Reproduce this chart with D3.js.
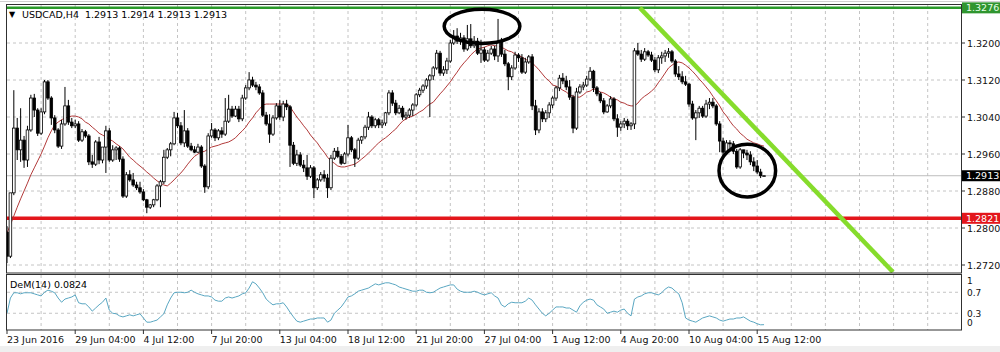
<!DOCTYPE html>
<html>
<head>
<meta charset="utf-8">
<script src="https://cdn.jsdelivr.net/npm/d3@7.9.0/dist/d3.min.js"></script>
<style>
html, body { margin: 0; padding: 0; background: #fff; }
svg { display: block; font-family: "DejaVu Sans", sans-serif; }
</style>
</head>
<body>
<svg id="chart" width="1000" height="352"></svg>
<script>
// USDCAD H4 candles, prices stored x10000
const opens = [12791,12739,12876,13016,12969,12990,12947,13012,13081,13055,
13005,13051,13116,13081,13038,13012,12977,13025,13064,13029,
13021,13025,12990,13008,12999,12943,12938,12986,12947,12975,
13010,12947,12969,12973,12949,12869,12915,12904,12893,12887,
12878,12861,12845,12850,12861,12891,12900,12953,12969,12982,
13038,13021,12984,13010,12977,12969,12964,12975,12934,12889,
12999,13012,12995,13010,13003,13031,13057,13042,13057,13036,
13081,13103,13120,13109,13105,13092,13044,13025,13003,13038,
13064,13040,13068,13062,12979,12940,12958,12936,12930,12912,
12930,12887,12904,12915,12908,12887,12951,12966,12955,12940,
12960,12995,12969,12951,12990,12997,13018,13040,13021,13034,
13023,13027,13049,13092,13070,13049,13059,13040,13044,13055,
13066,13088,13098,13107,13120,13129,13146,13178,13135,13142,
13161,13200,13215,13204,13211,13187,13209,13194,13204,13178,
13185,13163,13178,13187,13172,13202,13176,13155,13127,13146,
13174,13168,13137,13159,13170,13064,13012,13051,13036,13049,
13066,13081,13103,13124,13118,13105,13083,13016,13094,13105,
13109,13122,13139,13103,13090,13075,13051,13064,13079,13036,
13018,13025,13031,13021,13025,13183,13176,13165,13181,13174,
13163,13142,13168,13172,13178,13181,13161,13133,13127,13116,
13111,13068,13038,13049,13059,13042,13068,13072,13064,13025,
12988,12964,12984,12982,12966,12932,12969,12962,12958,12943,
12934,12921,12913];
const highs = [12804,12748,13098,13038,13059,12999,13021,13088,13090,13059,
13059,13120,13120,13085,13044,13016,13034,13105,13077,13038,
13034,13031,13014,13012,13003,12958,12990,12997,12973,13021,
13016,12979,12977,12977,12955,12921,12925,12919,12900,12900,
12884,12863,12852,12863,12895,12904,12969,12973,12986,13051,
13049,13029,13055,13016,12984,12977,12982,12979,12938,13005,
13027,13016,13014,13018,13081,13088,13064,13064,13064,13088,
13109,13137,13127,13116,13111,13098,13051,13046,13044,13070,
13077,13075,13077,13066,12986,12969,12964,12947,12958,12936,
12934,12908,12921,12925,12917,12958,12973,12975,12960,12964,
13023,12999,12973,12995,12999,13023,13051,13044,13038,13038,
13034,13051,13098,13098,13077,13066,13064,13051,13059,13070,
13092,13103,13111,13124,13133,13150,13185,13183,13150,13168,
13207,13228,13232,13222,13217,13239,13241,13215,13211,13207,
13191,13185,13194,13194,13252,13211,13185,13159,13152,13181,
13178,13176,13168,13174,13176,13077,13059,13059,13055,13072,
13085,13107,13131,13135,13129,13120,13088,13103,13111,13116,
13129,13148,13142,13107,13094,13081,13068,13085,13083,13046,
13031,13038,13036,13029,13189,13200,13185,13189,13185,13181,
13170,13174,13181,13185,13189,13185,13165,13150,13139,13129,
13114,13075,13055,13064,13064,13077,13081,13081,13068,13031,
12995,12990,12990,12988,12971,12973,12969,12969,12966,12953,
12947,12928,12914];
const lows = [12724,12735,12871,12947,12943,12930,12932,13008,13040,12999,
13001,13046,13077,13023,13005,12973,12971,13021,13023,13016,
13016,12986,12986,12995,12936,12930,12934,12938,12940,12919,
12943,12943,12947,12943,12865,12865,12900,12889,12882,12874,
12858,12832,12841,12845,12858,12845,12895,12949,12955,12979,
13016,12979,12975,12973,12966,12962,12962,12930,12876,12884,
12995,12988,12990,12995,12999,13027,13038,13040,13029,13031,
13077,13098,13105,13098,13088,13040,13021,12984,12999,13034,
13034,13031,13055,12932,12936,12934,12932,12921,12904,12908,
12865,12882,12900,12900,12865,12882,12947,12951,12936,12938,
12955,12964,12932,12947,12982,12992,13012,13016,13016,13016,
13016,13021,13044,13064,13044,13046,13034,13034,13038,13042,
13062,13083,13092,13101,13040,13120,13142,13129,13129,13133,
13157,13196,13198,13196,13181,13183,13189,13189,13174,13157,
13159,13159,13174,13163,13159,13170,13150,13098,13120,13142,
13159,13133,13133,13155,13055,13001,13005,13029,13029,13038,
13059,13075,13096,13111,13098,13077,13005,13012,13090,13098,
13105,13118,13094,13085,13070,13046,13049,13059,13031,12997,
13010,13016,13012,13012,13014,13172,13159,13161,13170,13159,
13137,13135,13155,13159,13168,13157,13127,13120,13111,13107,
13062,13034,12990,13038,13038,13038,13057,13059,13021,12964,
12958,12960,12973,12960,12928,12928,12951,12947,12936,12923,
12917,12908,12913];
const closes = [12739,12876,13016,12969,12990,12947,13012,13081,13055,13005,
13051,13116,13081,13038,13012,12977,13025,13064,13029,13021,
13025,12990,13008,12999,12943,12938,12986,12947,12975,13010,
12947,12969,12973,12949,12869,12915,12904,12893,12887,12878,
12861,12845,12850,12861,12891,12900,12953,12969,12982,13038,
13021,12984,13010,12977,12969,12964,12975,12934,12889,12999,
13012,12995,13010,13003,13031,13057,13042,13057,13036,13081,
13103,13120,13109,13105,13092,13044,13025,13003,13038,13064,
13040,13068,13062,12979,12940,12958,12936,12930,12912,12930,
12887,12904,12915,12908,12887,12951,12966,12955,12940,12960,
12995,12969,12951,12990,12997,13018,13040,13021,13034,13023,
13027,13049,13092,13070,13049,13059,13040,13044,13055,13066,
13088,13098,13107,13120,13129,13146,13178,13135,13142,13161,
13200,13215,13204,13211,13187,13209,13194,13204,13178,13185,
13163,13178,13187,13172,13202,13176,13155,13127,13146,13174,
13168,13137,13159,13170,13064,13012,13051,13036,13049,13066,
13081,13103,13124,13118,13105,13083,13016,13094,13105,13109,
13122,13139,13103,13090,13075,13051,13064,13079,13036,13018,
13025,13031,13021,13025,13183,13176,13165,13181,13174,13163,
13142,13168,13172,13178,13181,13161,13133,13127,13116,13111,
13068,13038,13049,13059,13042,13068,13072,13064,13025,12988,
12964,12984,12982,12966,12932,12969,12962,12958,12943,12934,
12921,12913,12913];
// red moving average (x10000)
const maValues = [12789,12807,12826,12845,12863,12880,12897,12915,12930,12945,
12960,12977,12995,13010,13023,13029,13034,13038,13040,13042,
13042,13040,13036,13029,13025,13018,13012,13005,13001,12997,
12992,12988,12982,12977,12971,12962,12953,12947,12940,12934,
12928,12921,12915,12908,12902,12897,12893,12891,12897,12904,
12912,12919,12928,12938,12947,12955,12960,12964,12966,12971,
12975,12977,12979,12982,12984,12986,12990,12995,13003,13010,
13018,13029,13038,13049,13057,13066,13068,13068,13068,13068,
13068,13068,13068,13062,13051,13040,13031,13021,13012,13001,
12992,12984,12973,12964,12953,12945,12940,12934,12932,12932,
12934,12936,12938,12943,12949,12955,12962,12969,12977,12984,
12990,12995,13001,13008,13014,13023,13031,13036,13040,13042,
13046,13051,13055,13062,13068,13072,13081,13090,13098,13107,
13116,13127,13137,13148,13157,13165,13174,13181,13187,13189,
13191,13194,13196,13194,13194,13191,13187,13183,13181,13176,
13172,13170,13165,13161,13157,13150,13142,13133,13124,13118,
13109,13107,13103,13098,13094,13088,13085,13083,13083,13088,
13094,13096,13101,13098,13094,13092,13088,13083,13079,13077,
13072,13070,13066,13064,13064,13070,13079,13085,13090,13096,
13103,13114,13124,13135,13146,13152,13157,13159,13157,13152,
13146,13139,13131,13122,13114,13105,13096,13085,13075,13064,
13051,13042,13031,13021,13014,13005,12999,12992,12988,12984,
12982,12979,12977];
// DeM(14)
const demValues = [0.30,0.59,0.69,0.69,0.67,0.69,0.69,0.69,0.67,0.65,
0.63,0.70,0.74,0.72,0.69,0.59,0.51,0.57,0.59,0.61,
0.65,0.50,0.48,0.48,0.42,0.34,0.40,0.46,0.51,0.59,
0.36,0.30,0.29,0.25,0.23,0.25,0.27,0.25,0.27,0.29,
0.21,0.13,0.13,0.15,0.17,0.23,0.29,0.46,0.59,0.69,
0.70,0.70,0.69,0.70,0.74,0.70,0.67,0.65,0.63,0.63,
0.61,0.55,0.53,0.53,0.59,0.61,0.59,0.61,0.63,0.67,
0.69,0.78,0.90,0.86,0.78,0.69,0.57,0.51,0.46,0.48,
0.48,0.50,0.42,0.32,0.23,0.15,0.13,0.15,0.17,0.19,
0.19,0.21,0.21,0.21,0.13,0.17,0.30,0.36,0.42,0.51,
0.61,0.63,0.67,0.72,0.74,0.76,0.78,0.82,0.86,0.84,
0.86,0.88,0.88,0.86,0.84,0.80,0.78,0.76,0.74,0.72,
0.72,0.74,0.74,0.70,0.69,0.70,0.74,0.78,0.80,0.82,
0.84,0.84,0.76,0.72,0.70,0.70,0.70,0.72,0.70,0.67,
0.65,0.67,0.69,0.63,0.59,0.46,0.42,0.48,0.51,0.50,
0.50,0.50,0.53,0.59,0.55,0.46,0.38,0.30,0.25,0.30,
0.36,0.42,0.42,0.42,0.40,0.40,0.36,0.32,0.44,0.51,
0.55,0.57,0.55,0.46,0.42,0.38,0.30,0.32,0.34,0.32,
0.36,0.38,0.30,0.25,0.57,0.61,0.63,0.67,0.69,0.69,
0.67,0.65,0.69,0.76,0.80,0.78,0.72,0.67,0.50,0.21,
0.17,0.15,0.13,0.17,0.21,0.23,0.25,0.23,0.21,0.17,
0.15,0.17,0.19,0.19,0.21,0.21,0.23,0.19,0.15,0.13,
0.10,0.08,0.0824];

const timeLabels = ['23 Jun 2016', '29 Jun 04:00', '4 Jul 12:00', '7 Jul 20:00', '13 Jul 04:00', '18 Jul 12:00',
  '21 Jul 20:00', '27 Jul 04:00', '1 Aug 12:00', '4 Aug 20:00', '10 Aug 04:00', '15 Aug 12:00'];
const barsPerLabel = 20;
const priceTicks = [1.2720, 1.2800, 1.2880, 1.2960, 1.3040, 1.3120, 1.3200];
const demGrid = [0.3, 0.7];
const demLabels = [1, 0.7, 0.3, 0];
const resistance = 1.3276;
const support = 1.2821;
const lastPrice = 1.2913;
const trendPoints = [[185.6, 1.3276], [259.8, 1.2705]];
const circles = [
  { bar: 139.3, price: 1.3236, halfBars: 11.1, halfPrice: 0.0037 },
  { bar: 217.1, price: 1.2924, halfBars: 8.3, halfPrice: 0.0057 },
];

const p = (v) => v / 10000;
const bars = closes.map((c, i) => ({ i, o: p(opens[i]), h: p(highs[i]), l: p(lows[i]), c: p(c) }));

const W = 1000, H = 352;
const left = 7, right = 961;
const main = { top: 5, bottom: 273 };
const sub = { top: 275, bottom: 330 };

const x = d3.scaleLinear().domain([0, barsPerLabel]).range([left, left + 68.2]);
const y = d3.scaleLinear().domain([1.2720, 1.3200]).range([265, 43]);
const yd = d3.scaleLinear().domain([0, 1]).range([329, 276.5]);
const fmt = d3.format('.4f');

const svg = d3.select('#chart');

svg.append('rect').attr('x', 0).attr('y', 346).attr('width', W).attr('height', 6).attr('fill', '#efefef');
svg.append('line').attr('x1', 0).attr('x2', W).attr('y1', 1.5).attr('y2', 1.5).attr('stroke', '#d0d0d0');

const defs = svg.append('defs');
defs.append('clipPath').attr('id', 'clipMain').append('rect')
  .attr('x', left).attr('y', main.top).attr('width', right - left).attr('height', main.bottom - main.top);
defs.append('clipPath').attr('id', 'clipSub').append('rect')
  .attr('x', left).attr('y', sub.top).attr('width', right - left).attr('height', sub.bottom - sub.top);

// grid
const gridBars = d3.range(10, 280, 10);
const grid = svg.append('g').attr('stroke', '#c4c4c4').attr('stroke-dasharray', '3,3').attr('stroke-width', 1);
grid.selectAll('.vm').data(gridBars).join('line')
  .attr('x1', (d) => x(d)).attr('x2', (d) => x(d)).attr('y1', main.top).attr('y2', main.bottom);
grid.selectAll('.vs').data(gridBars).join('line')
  .attr('x1', (d) => x(d)).attr('x2', (d) => x(d)).attr('y1', sub.top).attr('y2', sub.bottom);
grid.selectAll('.hm').data(priceTicks).join('line')
  .attr('x1', left).attr('x2', right).attr('y1', (d) => y(d)).attr('y2', (d) => y(d));
grid.selectAll('.hs').data(demGrid).join('line')
  .attr('x1', left).attr('x2', right).attr('y1', (d) => yd(d)).attr('y2', (d) => yd(d));

const plot = svg.append('g').attr('clip-path', 'url(#clipMain)');

// last price line
plot.append('line').attr('x1', left).attr('x2', right)
  .attr('y1', y(lastPrice)).attr('y2', y(lastPrice)).attr('stroke', '#bdbdbd');

// support
plot.append('line').attr('x1', left).attr('x2', right)
  .attr('y1', y(support)).attr('y2', y(support)).attr('stroke', '#e3161b').attr('stroke-width', 3.5);

// moving average
plot.append('path')
  .datum(maValues)
  .attr('fill', 'none').attr('stroke', '#b23a3a').attr('stroke-width', 1)
  .attr('d', d3.line().x((d, i) => x(i)).y((d) => y(p(d))));

// candles
const candles = plot.append('g').selectAll('g').data(bars).join('g');
candles.append('line')
  .attr('x1', (d) => x(d.i)).attr('x2', (d) => x(d.i))
  .attr('y1', (d) => y(d.h)).attr('y2', (d) => y(d.l))
  .attr('stroke', '#000').attr('stroke-width', 1);
candles.append('rect')
  .attr('x', (d) => x(d.i) - 1.3).attr('width', 2.6)
  .attr('y', (d) => y(Math.max(d.o, d.c)))
  .attr('height', (d) => Math.max(0.8, Math.abs(y(d.o) - y(d.c))))
  .attr('fill', (d) => (d.c >= d.o ? '#fff' : '#000'))
  .attr('stroke', '#000').attr('stroke-width', 0.8);

// resistance
plot.append('line').attr('x1', left).attr('x2', right)
  .attr('y1', y(resistance)).attr('y2', y(resistance)).attr('stroke', '#2b9a2b').attr('stroke-width', 2.5);

// trend line
plot.append('line')
  .attr('x1', x(trendPoints[0][0])).attr('y1', y(trendPoints[0][1]))
  .attr('x2', x(trendPoints[1][0])).attr('y2', y(trendPoints[1][1]))
  .attr('stroke', '#86dc2c').attr('stroke-width', 4.5).attr('stroke-linecap', 'butt');

// circled areas
plot.selectAll('ellipse').data(circles).join('ellipse')
  .attr('cx', (d) => x(d.bar)).attr('cy', (d) => y(d.price))
  .attr('rx', (d) => x(d.bar + d.halfBars) - x(d.bar))
  .attr('ry', (d) => y(d.price - d.halfPrice) - y(d.price))
  .attr('fill', 'none').attr('stroke', '#000').attr('stroke-width', 3.5);

// DeM panel
svg.append('g').attr('clip-path', 'url(#clipSub)').append('path')
  .datum(demValues)
  .attr('fill', 'none').attr('stroke', '#5aa7c2').attr('stroke-width', 1)
  .attr('d', d3.line().x((d, i) => x(i)).y((d) => yd(d)));

// frames
const frame = svg.append('g').attr('fill', 'none').attr('stroke', '#303030').attr('stroke-width', 1);
frame.append('rect').attr('x', left - 0.5).attr('y', main.top - 0.5)
  .attr('width', right - left + 1).attr('height', main.bottom - main.top + 0.5);
frame.append('rect').attr('x', left - 0.5).attr('y', sub.top - 0.5)
  .attr('width', right - left + 1).attr('height', sub.bottom - sub.top + 0.5);

// price axis
const axis = svg.append('g').attr('font-size', '9.5px').attr('fill', '#111');
axis.selectAll('line').data(priceTicks).join('line')
  .attr('x1', right).attr('x2', right + 4).attr('y1', (d) => y(d)).attr('y2', (d) => y(d))
  .attr('stroke', '#303030');
axis.selectAll('text').data(priceTicks).join('text')
  .attr('x', right + 6).attr('y', (d) => y(d) + 3.5).text((d) => fmt(d));

const tags = [
  { v: resistance, bg: '#2f952f', fg: '#e6ffe6' },
  { v: lastPrice, bg: '#000', fg: '#fff' },
  { v: support, bg: '#e3161b', fg: '#fff' },
];
const tag = svg.append('g').selectAll('g').data(tags).join('g');
tag.append('rect').attr('x', right + 1).attr('width', W - right - 1)
  .attr('y', (d) => y(d.v) - 5.5).attr('height', 11).attr('fill', (d) => d.bg);
tag.append('text').attr('x', right + 5).attr('y', (d) => y(d.v) + 3.5)
  .attr('font-size', '9.5px').attr('fill', (d) => d.fg).text((d) => fmt(d.v));

// DeM axis
svg.append('g').attr('font-size', '9px').attr('fill', '#111')
  .selectAll('text').data(demLabels).join('text')
  .attr('x', right + 6)
  .attr('y', (d) => (d === 1 ? yd(d) + 7.5 : yd(d) + (d === 0 ? -3 : 4)))
  .text((d) => String(d));

// time axis
const timeAxis = svg.append('g').attr('font-size', '9.5px').attr('fill', '#111');
timeAxis.selectAll('line').data(timeLabels).join('line')
  .attr('x1', (d, k) => x(k * barsPerLabel)).attr('x2', (d, k) => x(k * barsPerLabel))
  .attr('y1', sub.bottom).attr('y2', sub.bottom + 4).attr('stroke', '#303030');
timeAxis.selectAll('text').data(timeLabels).join('text')
  .attr('x', (d, k) => x(k * barsPerLabel)).attr('y', 343).text((d) => d);

// headers
const last = bars[bars.length - 1];
svg.append('text').attr('x', 9).attr('y', 17).attr('font-size', '8px').text('\u25BC');
svg.append('text').attr('x', 22).attr('y', 17.5).attr('font-size', '9.5px').style('white-space', 'pre')
  .text(`USDCAD,H4  ${fmt(last.o)} ${fmt(last.h)} ${fmt(last.l)} ${fmt(last.c)}`);
svg.append('text').attr('x', 10).attr('y', 287.5).attr('font-size', '9.5px')
  .text(`DeM(14) ${fmt(demValues[demValues.length - 1])}`);
</script>
</body>
</html>
